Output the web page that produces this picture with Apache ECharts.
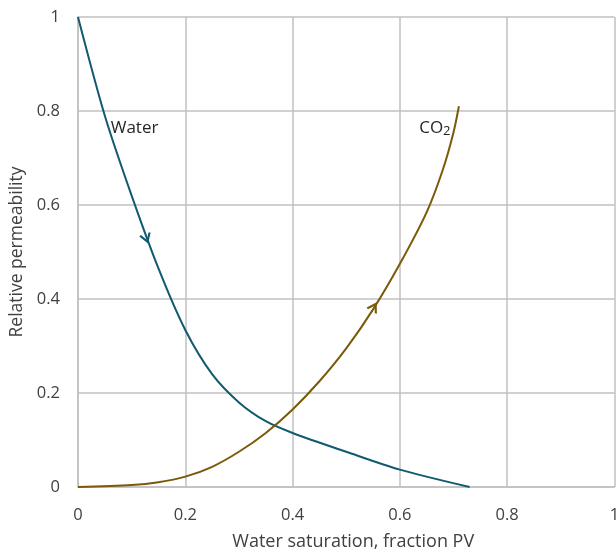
<!DOCTYPE html>
<html><head><meta charset="utf-8">
<script src="https://cdn.jsdelivr.net/npm/echarts@6/dist/echarts.min.js"></script>
<style>html,body{margin:0;padding:0;background:#fff}#c{width:616px;height:552px}</style>
</head><body><div id="c"></div>
<script>
const waterX = [0, 0.05, 0.1, 0.15, 0.2, 0.25, 0.3, 0.35, 0.4, 0.5, 0.6, 0.73];
const waterY = [1, 0.79, 0.62, 0.465, 0.334, 0.24, 0.18, 0.14, 0.115, 0.075, 0.037, 0];
const co2X = [0, 0.1, 0.15, 0.2, 0.25, 0.3, 0.35, 0.4, 0.45, 0.5, 0.55, 0.6, 0.65, 0.68, 0.7, 0.71];
const co2Y = [0, 0.004, 0.01, 0.022, 0.043, 0.075, 0.115, 0.165, 0.225, 0.295, 0.378, 0.475, 0.585, 0.675, 0.755, 0.81];
const xTicks = [0, 0.2, 0.4, 0.6, 0.8, 1];
const yTicks = [0, 0.2, 0.4, 0.6, 0.8, 1];
const waterArrow = [0.127, 0.53];
const co2Arrow = [0.551, 0.382];
const waterLabel = [0.06, 0.764];
const co2Label = [0.635, 0.764];

const FONT = 'Open Sans';
const waterColor = '#115a70';
const co2Color = '#7a5a08';
const gridColor = '#c0c0c0';
const pair = (xs, ys) => xs.map((x, i) => [x, ys[i]]);

const chart = echarts.init(document.getElementById('c'), null, {renderer: 'canvas'});
chart.setOption({
  animation: false,
  backgroundColor: '#fff',
  grid: {left: 78, right: 1.5, top: 17, bottom: 65, containLabel: false, outerBoundsMode: 'none'},
  xAxis: {
    type: 'value', min: xTicks[0], max: xTicks[xTicks.length - 1], interval: 0.2,
    name: 'Water saturation, fraction PV', nameLocation: 'middle', nameGap: 46,
    nameTextStyle: {fontFamily: FONT, fontSize: 18, color: '#404040', padding: [0, 0, 0, 14]},
    axisLine: {show: true, lineStyle: {color: gridColor, width: 1.5}},
    axisTick: {show: false},
    axisLabel: {fontFamily: FONT, fontSize: 16.5, color: '#404040', margin: 20, showMaxLabel: true},
    splitLine: {show: true, lineStyle: {color: gridColor, width: 1.5}}
  },
  yAxis: {
    type: 'value', min: yTicks[0], max: yTicks[yTicks.length - 1], interval: 0.2,
    name: 'Relative permeability', nameLocation: 'middle', nameGap: 49,
    nameTextStyle: {fontFamily: FONT, fontSize: 17.5, color: '#404040'},
    axisLine: {show: true, lineStyle: {color: gridColor, width: 1.5}},
    axisTick: {show: false},
    axisLabel: {fontFamily: FONT, fontSize: 16.5, color: '#404040', margin: 18},
    splitLine: {show: true, lineStyle: {color: gridColor, width: 1.5}}
  },
  series: [
    {
      name: 'Water', type: 'line', data: pair(waterX, waterY), smooth: 0.3,
      showSymbol: false, lineStyle: {color: waterColor, width: 2}, itemStyle: {color: waterColor},
      markPoint: {
        silent: true,
        data: [
          {coord: waterArrow, symbol: 'path://M0,0 L5,9 L10,0', symbolSize: [10, 8], symbolRotate: 19,
           itemStyle: {color: 'rgba(0,0,0,0)', borderColor: waterColor, borderWidth: 2}, label: {show: false}},
          {coord: waterLabel, symbol: 'rect', symbolSize: 1, itemStyle: {color: 'rgba(0,0,0,0)'},
           label: {show: true, position: 'right', distance: 0, formatter: 'Water', fontFamily: FONT, fontSize: 17, color: '#262626'}}
        ]
      }
    },
    {
      name: 'CO2', type: 'line', data: pair(co2X, co2Y), smooth: 0.3,
      showSymbol: false, lineStyle: {color: co2Color, width: 2}, itemStyle: {color: co2Color},
      markPoint: {
        silent: true,
        data: [
          {coord: co2Arrow, symbol: 'path://M0,9 L5,0 L10,9', symbolSize: [10, 8], symbolRotate: -31,
           itemStyle: {color: 'rgba(0,0,0,0)', borderColor: co2Color, borderWidth: 2}, label: {show: false}},
          {coord: co2Label, symbol: 'rect', symbolSize: 1, itemStyle: {color: 'rgba(0,0,0,0)'},
           label: {show: true, position: 'right', distance: 0, formatter: '{a|CO}{b|2}', color: '#262626',
             rich: {a: {fontFamily: FONT, fontSize: 17, color: '#262626'},
                    b: {fontFamily: FONT, fontSize: 13, color: '#262626', padding: [7, 0, 0, 0]}}}}
        ]
      }
    }
  ]
});
</script></body></html>
